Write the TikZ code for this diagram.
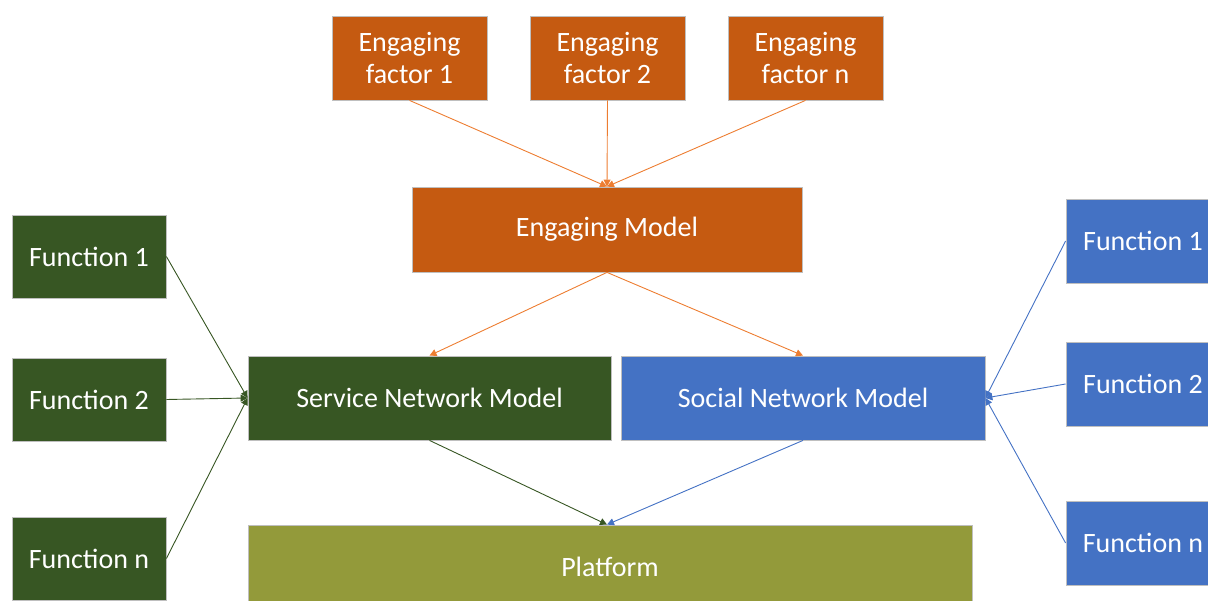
\documentclass[tikz,border=0pt]{standalone}
\usepackage{fontspec}
\setmainfont{Carlito}
\usetikzlibrary{arrows.meta}
\definecolor{engorange}{HTML}{C55A11}
\definecolor{engline}{HTML}{ED7D31}
\definecolor{svcgreen}{HTML}{375623}
\definecolor{socblue}{HTML}{4472C4}
\definecolor{platolive}{HTML}{939A3A}
\definecolor{edgegray}{HTML}{BFBFBF}
\tikzset{
  box/.style={draw=edgegray, line width=0.8pt, text=white, align=center,
    inner sep=0pt, font=\fontsize{28}{32}\selectfont},
  orangebox/.style={box, fill=engorange},
  greenbox/.style={box, fill=svcgreen},
  bluebox/.style={box, fill=socblue},
  olivebox/.style={box, fill=platolive},
  link/.style={line width=0.9pt, -{Triangle[length=7pt,width=7pt]}},
}
\begin{document}
\begin{tikzpicture}[x=1pt,y=-1pt]
\useasboundingbox (0,0) rectangle (1208,601);
\clip (0,0) rectangle (1208,601);
% engaging factors
\node[orangebox, minimum width=155pt, minimum height=84pt] (ef1) at (409.5,58) {Engaging\\factor 1};
\node[orangebox, minimum width=155pt, minimum height=84pt] (ef2) at (607.5,58) {Engaging\\factor 2};
\node[orangebox, minimum width=155pt, minimum height=84pt] (efn) at (805.5,58) {Engaging\\factor n};
% models
\node[orangebox, minimum width=390pt, minimum height=85pt] (em) at (607,229.5) {Engaging Model};
\node[greenbox, minimum width=363pt, minimum height=84pt] (svc) at (429.5,398) {Service Network Model};
\node[bluebox, minimum width=364pt, minimum height=84pt] (soc) at (803,398) {Social Network Model};
\node[olivebox, minimum width=724pt, minimum height=84pt] (plat) at (610,567) {Platform};
% left functions
\node[greenbox, minimum width=154pt, minimum height=83pt] (lf1) at (89,256.5) {Function 1};
\node[greenbox, minimum width=154pt, minimum height=83pt] (lf2) at (89,399.5) {Function 2};
\node[greenbox, minimum width=154pt, minimum height=83pt] (lfn) at (89,558.5) {Function n};
% right functions
\node[bluebox, minimum width=154pt, minimum height=84pt] (rf1) at (1143,241) {Function 1};
\node[bluebox, minimum width=154pt, minimum height=84pt] (rf2) at (1143,384) {Function 2};
\node[bluebox, minimum width=154pt, minimum height=84pt] (rfn) at (1143,543) {Function n};
% connectors
\draw[link, engline] (ef1.south) -- (em.north);
\draw[link, engline] (ef2.south) -- (em.north);
\draw[link, engline] (efn.south) -- (em.north);
\draw[link, engline] (em.south) -- (svc.north);
\draw[link, engline] (em.south) -- (soc.north);
\draw[link, svcgreen] (lf1.east) -- (svc.west);
\draw[link, svcgreen] (lf2.east) -- (svc.west);
\draw[link, svcgreen] (lfn.east) -- (svc.west);
\draw[link, socblue] (rf1.west) -- (soc.east);
\draw[link, socblue] (rf2.west) -- (soc.east);
\draw[link, socblue] (rfn.west) -- (soc.east);
\draw[link, svcgreen] (svc.south) -- ([xshift=-3pt]plat.north);
\draw[link, socblue] (soc.south) -- ([xshift=-3pt]plat.north);
\end{tikzpicture}
\end{document}
